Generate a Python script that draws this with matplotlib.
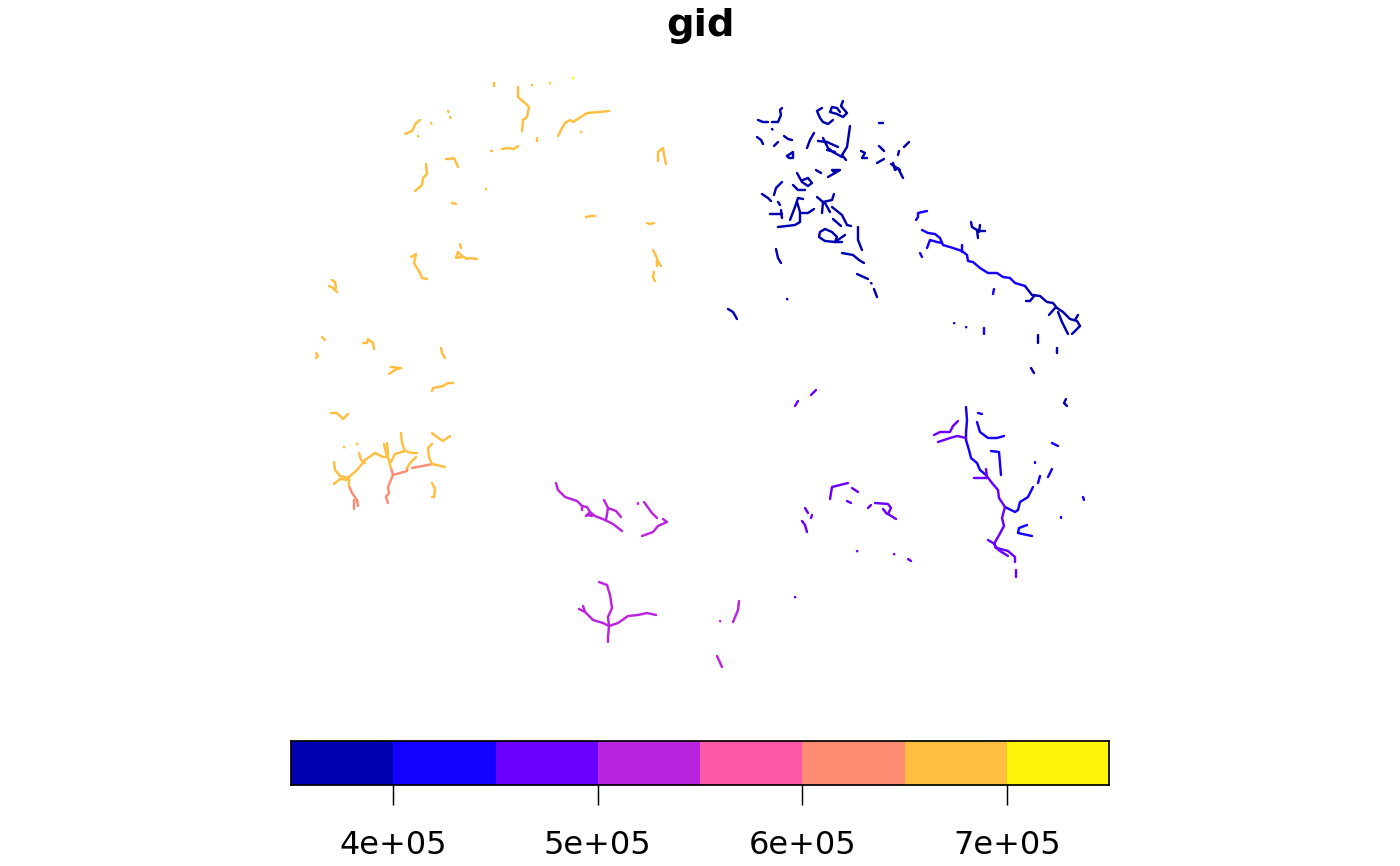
import numpy as np
import matplotlib
matplotlib.use("Agg")
import matplotlib.pyplot as plt
from matplotlib.colors import BoundaryNorm, ListedColormap

# class breaks and colours of the gid legend
breaks = [350000, 400000, 450000, 500000, 550000, 600000, 650000, 700000, 750000]
colors = ["#0000B0", "#1400FF", "#6A00FF", "#BB24DF", "#FF58A8", "#FF8C72", "#FFBE40", "#FFF50C"]
tick_values = [400000, 500000, 600000, 700000]
tick_labels = ["4e+05", "5e+05", "6e+05", "7e+05"]

# river pieces as (easting, southing) and grouped by gid class
gid_375k = [
    [(758, 120), (763, 122), (768, 122)],
    [(772, 122), (778, 122), (781, 115), (780, 110), (782, 108)],
    [(772, 129), (772.5, 129.5)],
    [(757, 137), (761, 140), (763, 144)],
    [(774, 146), (778, 142)],
    [(784, 136), (788, 139), (792, 140)],
    [(787, 156), (793, 152), (793, 158), (789, 158), (787, 156)],
    [(807, 148), (810, 140), (814, 133)],
    [(822, 108), (817, 111), (820, 118), (823, 122), (828, 124), (833, 120)],
    [(843, 101), (841, 106), (847, 113), (843, 117), (837, 114), (830, 112), (832, 107), (837, 108), (840, 112)],
    [(850, 126), (848, 140), (847, 147), (842, 155), (846, 160)],
    [(818, 141), (827, 142), (838, 147)],
    [(823, 138), (828, 148), (833, 152), (842, 157)],
    [(827, 150), (835, 152)],
    [(879, 123), (883, 123)],
    [(861, 151), (865, 153), (862, 158), (867, 158)],
    [(879, 146), (884, 151)],
    [(877, 163), (884, 159)],
    [(898, 155), (899, 151)],
    [(904, 147), (909, 142)],
    [(893, 163), (895, 170), (898, 168), (903, 178)],
    [(891, 164), (900, 170)],
    [(816, 170), (821, 173)],
    [(828, 177), (835, 173), (832, 170), (840, 170), (835, 173)],
    [(797, 173), (802, 182), (808, 186), (812, 183), (808, 178), (803, 180)],
    [(782, 182), (776, 188), (774, 195)],
    [(762, 194), (768, 198), (771, 201)],
    [(778, 202), (780, 205)],
    [(770, 214), (782, 214)],
    [(781, 210), (782, 218)],
    [(793, 185), (798, 190), (805, 190)],
    [(790, 220), (795, 207), (798, 198), (803, 199)],
    [(797, 202), (800, 212), (800, 222), (795, 225), (778, 227)],
    [(802, 213), (808, 213), (814, 209)],
    [(817, 197), (823, 202), (832, 200), (834, 194)],
    [(823, 202), (822, 213)],
    [(825, 203), (830, 212)],
    [(832, 207), (842, 215), (847, 225), (851, 226)],
    [(833, 219), (841, 226)],
    [(825, 229), (820, 232), (819, 237), (825, 241), (835, 242), (845, 235)],
    [(835, 242), (842, 242)],
    [(825, 229), (832, 232), (837, 237), (835, 242)],
    [(858, 227), (858, 240), (862, 250)],
    [(842, 253), (853, 255), (859, 260), (864, 263)],
    [(776, 249), (778, 258), (781, 263)],
    [(857, 274), (868, 279)],
    [(871, 283), (871.5, 283.5)],
    [(874, 289), (877, 297)],
    [(787, 299), (787.3, 299.3)],
    [(728, 309), (733, 312), (737, 319)],
    [(971, 222), (972, 227), (977, 230), (978, 238)],
    [(980, 225), (979, 232)],
    [(977, 231), (985, 231)],
    [(1025, 286), (1032, 295), (1040, 296), (1047, 302), (1053, 303), (1057, 308), (1063, 312), (1070, 319), (1077, 321), (1080, 326)],
    [(1026, 301), (1030, 301), (1035, 295)],
    [(1055, 308), (1049, 315)],
    [(1058, 312), (1062, 322), (1068, 334)],
    [(1072, 334), (1080, 326)],
    [(1075, 320), (1078, 315)],
    [(1038, 335), (1038, 343)],
    [(1057, 348), (1057, 353)],
    [(1031, 368), (1034, 373)],
    [(1066, 399), (1064, 403), (1067, 406)],
]
gid_425k = [
    [(927, 211), (918, 213), (918, 217), (916, 220)],
    [(922, 230), (928, 233), (935, 234), (940, 238), (943, 245), (953, 248), (962, 251), (967, 255), (968, 261), (973, 262),
     (980, 268), (988, 273), (997, 273), (1003, 277), (1010, 278), (1015, 283), (1025, 286)],
    [(927, 248), (930, 240), (937, 242), (942, 243)],
    [(962, 245), (962, 252)],
    [(920, 253), (922, 257)],
    [(994, 289), (993, 294)],
    [(954, 323), (954.3, 323.3)],
    [(966, 327), (966.3, 327.3)],
    [(984, 328), (984, 334)],
    [(966, 407), (967, 420), (966, 433), (966, 440), (969, 450), (971, 458), (977, 463), (980, 470), (986, 475)],
    [(978, 413), (982, 414)],
    [(977, 422), (980, 432), (988, 438), (997, 438), (1004, 436)],
    [(991, 451), (999, 452), (1001, 475)],
    [(1005, 507), (1015, 512), (1018, 510), (1020, 502), (1028, 497), (1033, 487)],
    [(1038, 483), (1040, 476)],
    [(1035, 462), (1035, 463)],
    [(1048, 477), (1052, 469)],
    [(1052, 443), (1058, 446)],
    [(1083, 497), (1084, 500)],
    [(1061, 517), (1061, 518)],
    [(1027, 525), (1019, 528), (1018, 533), (1032, 536)],
]
gid_475k = [
    [(986, 475), (992, 483), (998, 490), (999, 498), (1005, 507)],
    [(1005, 507), (1002, 518), (1004, 526), (998, 537), (994, 544), (997, 548), (1008, 551), (1015, 557), (1015, 562)],
    [(1016, 570), (1016, 577)],
    [(988, 540), (993, 543), (995, 544)],
    [(995, 547), (1000, 551), (1008, 556)],
    [(934, 435), (940, 432), (950, 432), (953, 426), (958, 421)],
    [(938, 442), (950, 438), (957, 436), (966, 438)],
    [(974, 478), (987, 478), (986, 469)],
    [(811, 395), (816, 390)],
    [(795, 406), (798, 401)],
    [(830, 499), (832, 487), (840, 485), (848, 483)],
    [(852, 488), (858, 492)],
    [(847, 501), (851, 503)],
    [(868, 508), (871, 505)],
    [(875, 503), (888, 504), (891, 508), (888, 514), (896, 519)],
    [(883, 509), (887, 514)],
    [(805, 508), (808, 513)],
    [(811, 518), (812, 515)],
    [(802, 521), (805, 525), (807, 532)],
    [(857, 551), (857.3, 551.3)],
    [(894, 554), (894.3, 554.3)],
    [(908, 559), (911, 561)],
    [(795, 597), (795.3, 597.3)],
]
gid_525k = [
    [(556, 483), (558, 490), (565, 497), (577, 501), (582, 506), (587, 507), (590, 512), (595, 516), (605, 520), (613, 524), (622, 531)],
    [(582, 506), (582, 510)],
    [(586, 516), (590, 512), (592, 516), (587, 515)],
    [(604, 500), (608, 508), (606, 520)],
    [(608, 508), (616, 511), (621, 517)],
    [(638, 503), (638, 503.5)],
    [(644, 502), (652, 513), (657, 518)],
    [(642, 536), (653, 532), (658, 526), (667, 522), (663, 519)],
    [(599, 582), (607, 585), (610, 595), (612, 608), (608, 617), (609, 626)],
    [(579, 609), (585, 612), (593, 620), (603, 623), (609, 626)],
    [(583, 606), (585, 612)],
    [(609, 626), (618, 623), (628, 616), (638, 615), (647, 613), (656, 615)],
    [(609, 626), (608, 637), (608, 642)],
    [(720, 621), (720.3, 621.3)],
    [(739, 601), (738, 610), (733, 622)],
    [(717, 656), (722, 667)],
]
gid_625k = [
    [(349, 486), (352, 493), (357, 500), (358, 506)],
    [(354, 500), (354, 509)],
    [(391, 468), (393, 475), (388, 487), (389, 493), (386, 497), (388, 503)],
    [(393, 475), (407, 471), (407, 468)],
    [(412, 468), (428, 465), (432, 464)],
]
gid_675k = [
    [(331, 413), (337, 413), (343, 419), (348, 414)],
    [(344, 447), (344.3, 447.3)],
    [(357, 444), (357.3, 444.3)],
    [(334, 462), (335, 470), (340, 476), (349, 478)],
    [(334, 484), (340, 479), (349, 480)],
    [(349, 477), (349, 486)],
    [(349, 477), (357, 470), (365, 460), (375, 453), (383, 457), (388, 457), (391, 468)],
    [(359, 453), (361, 460), (365, 463)],
    [(384, 444), (387, 457)],
    [(387, 443), (388, 455)],
    [(391, 462), (395, 454), (405, 451), (412, 453), (417, 453)],
    [(401, 433), (402, 443), (405, 451)],
    [(407, 468), (410, 463), (416, 457)],
    [(432, 444), (428, 448), (429, 457), (432, 464), (445, 467)],
    [(432, 433), (437, 437), (443, 441), (450, 436)],
    [(432, 483), (435, 489), (434, 497), (432, 497)],
    [(329, 286), (333, 288), (337, 292)],
    [(332, 280), (335, 282), (336, 288)],
    [(322, 337), (325, 340)],
    [(316, 353), (318, 356), (316, 358)],
    [(363, 343), (367, 343), (368, 339), (373, 343), (374, 349)],
    [(441, 348), (442, 353), (445, 358)],
    [(391, 367), (401, 368), (395, 370), (389, 374)],
    [(432, 391), (433, 388), (443, 386), (448, 383), (453, 383)],
    [(494, 83), (494, 86)],
    [(532, 85), (532.3, 85.3)],
    [(550, 83), (550.3, 83.3)],
    [(518, 87), (518, 97), (525, 103), (529, 107), (527, 117), (523, 120), (522, 131)],
    [(558, 136), (562, 128), (565, 123), (570, 120), (573, 122), (587, 113), (600, 112), (609, 111)],
    [(581, 132), (581.3, 132.3)],
    [(537, 138), (537, 141)],
    [(448, 111), (448.5, 112)],
    [(450, 117), (450.5, 118)],
    [(431, 123), (431.5, 123.5)],
    [(418, 136), (418.3, 136.3)],
    [(405, 134), (412, 131), (416, 123), (420, 120)],
    [(491, 151), (492, 151)],
    [(502, 149), (508, 148), (514, 149), (518, 146)],
    [(446, 159), (450, 159), (454, 158), (458, 167)],
    [(426, 164), (427, 174), (423, 178), (422, 185), (415, 191)],
    [(486, 189), (486.3, 189.3)],
    [(452, 203), (456, 204)],
    [(586, 217), (590, 216), (595, 216)],
    [(647, 223), (650, 224), (654, 223)],
    [(658, 161), (658, 152), (663, 148), (664, 155), (666, 164)],
    [(653, 250), (657, 258), (657, 266)],
    [(657, 260), (661, 266)],
    [(654, 272), (653, 277), (655, 281)],
    [(411, 257), (416, 254), (414, 263), (420, 273), (422, 278), (427, 279)],
    [(460, 244), (461, 248)],
    [(456, 258), (458, 252), (462, 256), (467, 259), (470, 258), (477, 259)],
    [(457, 255), (457, 258), (462, 257)],
]
gid_725k = [
    [(573, 78), (573.3, 78.3)],
]

class_gids = [375000, 425000, 475000, 525000, 625000, 675000, 725000]
class_pieces = [gid_375k, gid_425k, gid_475k, gid_525k, gid_625k, gid_675k, gid_725k]

W, H = 1400, 866

cmap = ListedColormap(colors)
norm = BoundaryNorm(breaks, cmap.N)

fig = plt.figure(figsize=(W / 100, H / 100), dpi=100)
fig.patch.set_facecolor("white")

# map panel spans the figure, so the axis limits are the extent of the sketch
ax = fig.add_axes([0, 0, 1, 1])
ax.set_xlim(0, W)
ax.set_ylim(H, 0)
ax.axis("off")

for gid, pieces in zip(class_gids, class_pieces):
    col = cmap(norm(gid))
    for piece in pieces:
        xy = np.array(piece)
        ax.plot(xy[:, 0], xy[:, 1], color=col, lw=1.75,
                solid_capstyle="round", solid_joinstyle="round")

fig.text(700 / W, 1 - 25.5 / H, "gid", fontsize=27.7, fontweight="bold",
         ha="center", va="center")

# key along the bottom
cax = fig.add_axes([291 / W, 1 - 785 / H, (1109 - 291) / W, 44 / H])
lefts = np.array(breaks[:-1])
widths = np.diff(breaks)
cax.bar(lefts, np.ones(len(lefts)), width=widths, align="edge", color=colors, linewidth=0)
cax.set_xlim(breaks[0], breaks[-1])
cax.set_ylim(0, 1)
cax.set_yticks([])
cax.set_xticks(tick_values)
cax.set_xticklabels(tick_labels, fontsize=23)
cax.tick_params(axis="x", length=14.5, width=1.05, pad=18)
for spine in cax.spines.values():
    spine.set_linewidth(1.25)

fig.savefig("out.png", dpi=100)
